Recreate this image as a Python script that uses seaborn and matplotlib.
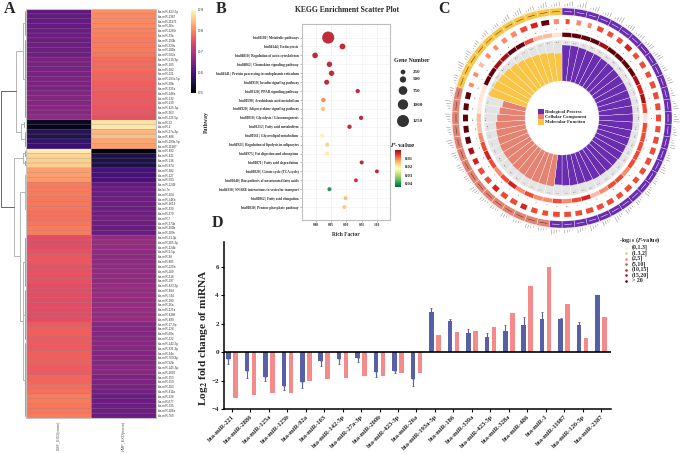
import numpy as np
import pandas as pd
import matplotlib
matplotlib.use("Agg")
import matplotlib.pyplot as plt
from matplotlib.cm import ScalarMappable
from matplotlib.colors import Normalize
import seaborn as sns

sns.set_theme(style="white")
plt.rcParams["font.family"] = ["Liberation Serif", "DejaVu Serif"]
plt.rcParams["mathtext.fontset"] = "stix"
plt.rcParams["font.weight"] = "bold"

W, H = 685, 454
SERIF = "Liberation Serif"
SANS = "Liberation Sans"

# ---------- Panel A ----------
mirna_a = ["423-5p","2387","11971","26a","2285t","33a","193b","320a","181b","502a","219-3p","185","182","221",
 "193a-5p","28b","335a","146a","132","139","425-5p","363","126-5p","32","1","27a-3p","486","199a-5p","11987",
 "492","421","136","874","382","127","503","1249","let-7e","204","146b","1613","330","379","7","374a","200b","200c",
 "21-3p","365-3p","124b","9-5p","98","885","125b","200","218","197","423-3p","484","744","180","26a","125a","4286",
 "490","17-5p","128","60a","222","142-5p","331-3p","34a","760-3p","92b","145-5p","2000","155","150","103","411a",
 "328","677","335","106a","769"]
lmf_exo = [.615,.62,.62,.62,.625,.625,.63,.63,.63,.63,.645,.64,.64,.64,.645,.645,.645,.65,.65,.65,.655,.655,.66,
 .525,.52,.56,.555,.575,.58,.885,.865,.86,.86,.82,.82,.815,.79,.79,.79,.785,.785,.785,.78,.78,.785,.79,.79,
 .745,.745,.745,.75,.755,.755,.75,.75,.75,.75,.745,.745,.745,.745,.745,.745,.745,.745,.76,.765,.765,.76,.76,
 .76,.765,.765,.765,.76,.76,.77,.77,.775,.78,.79,.79,.785,.785,.79]
hmf_exo = [.805,.80,.80,.80,.795,.795,.79,.79,.79,.785,.775,.775,.775,.77,.77,.765,.765,.76,.76,.76,.755,.755,.75,
 .875,.88,.84,.845,.825,.82,.51,.55,.55,.55,.59,.59,.595,.62,.625,.625,.63,.63,.63,.63,.635,.63,.625,.625,
 .67,.67,.67,.665,.66,.66,.665,.665,.665,.665,.67,.67,.67,.67,.67,.67,.67,.67,.655,.65,.65,.655,.655,
 .655,.65,.65,.65,.655,.655,.645,.645,.64,.635,.625,.625,.63,.63,.625]
column_a = ["LMF_EXO(norm)", "HMF_EXO(norm)"]

# dendrogram: (depth in px, [children]); a child is a node or a (first_row, last_row, depth) comb
dendro = (0.5, [
    (16, [(23, [(0, 5, 24.5), (6, 22, 25)]), (21, [(23, 24, 24), (25, 28, 25)])]),
    (13.5, [(23, [(29, 30, 25), (31, 32, 25)]),
            (19.5, [(25, [(33, 35, 25.5), (36, 46, 25.5)]),
                    (23, [(47, 57, 25), (58, 68, 25), (69, 84, 25)])])]),
])

# ---------- Panel B ----------
pathways = ["bta01100 | Metabolic pathways","bta04144 | Endocytosis","bta04810 | Regulation of actin cytoskeleton",
 "bta04062 | Chemokine signaling pathway","bta04141 | Protein processing in endoplasmic reticulum",
 "bta04910 | Insulin signaling pathway","bta03320 | PPAR signaling pathway","bta00590 | Arachidonic acid metabolism",
 "bta04920 | Adipocytokine signaling pathway","bta00010 | Glycolysis / Gluconeogenesis","bta01212 | Fatty acid metabolism",
 "bta00561 | Glycerolipid metabolism","bta04923 | Regulation of lipolysis in adipocytes","bta04975 | Fat digestion and absorption",
 "bta00071 | Fatty acid degradation","bta00020 | Citrate cycle (TCA cycle)","bta01040 | Biosynthesis of unsaturated fatty acids",
 "bta04130 | SNARE interactions in vesicular transport","bta00062 | Fatty acid elongation","bta00030 | Pentose phosphate pathway"]
rich_factor = [.840,.887,.797,.844,.851,.835,.937,.824,.823,.948,.910,.820,.837,.837,.950,1.000,.931,.844,.897,.893]
gene_number = [1260,230,210,190,190,150,90,90,90,90,90,80,80,70,70,60,60,70,60,60]
p_value = [.002,.002,.002,.002,.002,.002,.002,.010,.015,.002,.002,.020,.016,.019,.002,.002,.003,.041,.014,.015]
legend_genes = [250,500,750,1000,1250]
rich_ticks = [.80,.85,.90,.95,1.00]
p_ticks = [.01,.02,.03,.04]

# ---------- Panel C ----------
sector_counts = [28, 15, 11]
sector_names = ["Biological Process", "Cellular Component", "Molecular Function"]
sector_colors = ["#6A2DAF", "#E58373", "#F8C544"]
bar_values = [73,73,72.5,72,72,71.5,71.5,71,71,71,71,71,71,71,71,70.5,70.5,70,70,69.5,69.5,69,69,68.5,68,68,67.5,67,
              69,69,69,69,68.5,68.5,68,68,68,67.5,67,66.5,65,63,61,
              76,75,74,73,71.5,70,69,68,67,66,65]
band_class = [6,6,6,6,5,6,6,6,6,5,4,5,3,0,3,3,3,3,3,2,3,3,2,1,4,3,2,3,
              2,2,3,2,4,3,2,3,4,3,2,1,1,0,0,
              0,6,6,5,5,6,6,3,1,1,0]
square_class = [3,2,2,3,3,3,4,3,3,3,3,3,3,3,3,3,3,3,3,3,3,3,3,3,3,3,3,3,
                3,3,4,3,3,4,3,3,4,5,6,6,6,6,6,
                2,2,1,2,2,2,2,3,4,6,2,1][:54]
square_width = [.35,.4,.35,.55,.5,.5,.6,.5,.55,.5,.6,.6,.6,.6,.55,.6,.6,.6,.55,.5,.6,.55,.6,.6,.65,.6,.6,.6,
                .5,.55,.55,.6,.6,.55,.55,.55,.5,.55,.6,.6,.6,.6,.6,
                .35,.35,.35,.35,.35,.45,.5,.6,.6,.7,.45][:54]
outer_heights = [5,6,5,4,6,5,4,5,6,4,5,3,5,6,4,5,4,5,3,5,4,5,6,4,5,4,3,5,
                 3,4,3,4,3,4,5,3,4,5,6,4,5,6,4,
                 4,6,5,4,5,3,5,6,4,5,4]
band_numbers = [24,26,27,43,38,29,37,41,46,62,69,72,58,91,77,85,88,62,71,79,93,84,77,105,48,75,120,96,
                62,62,54,73,49,57,70,72,65,88,91,108,180,275,346,
                346,38,12,26,45,19,22,47,205,107,96]
legend_p_labels = ["(0,1.3]", "(1.3,2]", "(2,5]", "(5,10]", "(10,15]", "(15,20]", "> 20"]
p_colors = ["#FEE5D9", "#FCBBA1", "#FB8A6B", "#EF4A35", "#D7201E", "#A50F15", "#5F000B"]

# ---------- Panel D ----------
mirna_d = ["bta-miR-221","bta-miR-2886","bta-miR-125a","bta-miR-125b","bta-miR-92a","bta-miR-103","bta-miR-142-5p",
 "bta-miR-27a-3p","bta-miR-200b","bta-miR-423-3p","bta-miR-26a","bta-miR-193a-5p","bta-miR-186","bta-miR-339a",
 "bta-miR-423-5p","bta-miR-328a","bta-miR-486","bta-miR-1","bta-miR-11987","bta-miR-126-5p","bta-miR-2387"]
fc_blue = [-.5,-1.35,-1.75,-2.35,-2.1,-.6,-.5,-.4,-1.4,-1.35,-1.9,2.85,2.2,1.35,1.05,1.5,1.92,2.35,2.35,1.88,3.99]
fc_err = [.35,.5,.3,.3,.45,.35,.3,.3,.35,.15,.45,.25,.1,.28,.28,.4,.54,.47,.07,.21,.04]
fc_pink = [-3.2,-3.0,-2.9,-2.85,-2.0,-1.9,-1.85,-1.7,-1.7,-1.45,-1.45,1.2,1.4,1.52,1.76,2.77,4.67,5.99,3.38,1.0,2.44]
d_ticks = [-4,-2,0,2,4,6]


def axpx(x0, y0, x1, y1, **kw):
    return fig.add_axes([x0 / W, 1 - y1 / H, (x1 - x0) / W, (y1 - y0) / H], **kw)


fig = plt.figure(figsize=(6.85, 4.54), dpi=100, facecolor="white")

# ---- A: heat map
hm_df = pd.DataFrame({column_a[0]: lmf_exo, column_a[1]: hmf_exo},
                     index=[m if m.startswith("let") else "miR-" + m for m in mirna_a])
hm_df.index = ["bta-" + m for m in hm_df.index]
axA = axpx(26, 9, 156, 418)
caxA = axpx(191, 9.5, 196, 93)
sns.heatmap(hm_df, ax=axA, cmap="magma", vmin=.5, vmax=.9, linewidths=0,
            cbar_ax=caxA, yticklabels=True, xticklabels=True)
sep = axA.hlines(np.arange(1, len(mirna_a)), 0, 2, color="#8a8a8a", lw=.4, alpha=.55)
sep.set_snap(False)
axA.vlines(1, 0, len(mirna_a), color="#a8a8a8", lw=.4)
axA.yaxis.tick_right()
axA.tick_params(axis="y", length=0, pad=1.2, labelsize=2.2, labelcolor="#333333", labelrotation=0)
axA.tick_params(axis="x", length=0, pad=2, labelsize=2.8, labelcolor="#555555", labelrotation=90)
for t in axA.get_yticklabels() + axA.get_xticklabels():
    t.set_fontfamily(SANS)
    t.set_fontweight("normal")
for s in axA.spines.values():
    s.set_visible(True)
    s.set_color("#c4c4c4")
    s.set_linewidth(.8)
caxA.set_yticks([.5, .6, .7, .8, .9])
caxA.tick_params(length=0, pad=1.5, labelsize=3.2, labelcolor="#444444")
for t in caxA.get_yticklabels():
    t.set_fontfamily(SANS)
    t.set_fontweight("normal")

axD0 = axpx(0, 9, 26, 418, frameon=False)
axD0.set_xlim(0, 26)
axD0.set_ylim(85, 0)
axD0.axis("off")


def draw_node(node):
    if len(node) == 3:
        a, b, depth = node
        axD0.plot([depth, depth], [a + .5, b + .5], color="#777777", lw=.5)
        return depth, (a + b + 1) / 2
    depth, kids = node
    pos = [draw_node(k) for k in kids]
    ys = [p[1] for p in pos]
    col = "#666666" if depth < 2 else "#b5b5b5"
    axD0.plot([depth, depth], [min(ys), max(ys)], color=col, lw=.7)
    for d, y in pos:
        axD0.plot([depth, d], [y, y], color=col, lw=.7)
    return depth, (min(ys) + max(ys)) / 2


draw_node(dendro)

# ---- B: scatter
axB = axpx(302, 24, 390, 220)
df_b = pd.DataFrame({"pathway": pathways, "rich": rich_factor, "genes": gene_number, "p": p_value})
sns.scatterplot(data=df_b, x="rich", y="pathway", size="genes", sizes=(8, 76), size_norm=(60, 1260),
                hue="p", hue_norm=(0, .044), palette="RdYlGn", linewidth=0, alpha=.9, legend=False, ax=axB)
axB.set_xlim(.754, 1.043)
axB.set_ylim(19 + 1.45, -1.52)
axB.set_xticks(rich_ticks)
axB.set_xticklabels([f"{v:.2f}" for v in rich_ticks])
axB.grid(True, color="#eeeeee", lw=.4)
axB.set_axisbelow(True)
axB.set_xlabel("")
axB.set_ylabel("")
axB.tick_params(axis="both", length=1.5, width=.4, color="#888888", labelsize=2.6, pad=1, left=True, bottom=True)
axB.tick_params(axis="y", labelsize=2.5)
for s in axB.spines.values():
    s.set_color("#bdbdbd")
    s.set_linewidth(.8)

caxB = axpx(395, 150, 401, 187)
cb = fig.colorbar(ScalarMappable(Normalize(0, .044), "RdYlGn"), cax=caxB)
caxB.invert_yaxis()
cb.set_ticks(p_ticks)
cb.outline.set_visible(False)
caxB.tick_params(length=0, pad=2.5, labelsize=3.4)

# ---- C: circular GO plot
axC = axpx(440, -4, 684, 240, projection="polar", frameon=False)
axC.set_theta_zero_location("N")
axC.set_theta_direction(-1)
axC.set_ylim(0, 122)
axC.axis("off")
n = sum(sector_counts)
step = 2 * np.pi / n
theta = (np.arange(n) + .5) * step
cols = np.repeat(sector_colors, sector_counts)
bars = np.array(bar_values)
bkw = dict(linewidth=.22, edgecolor="white")
axC.bar(theta, 41, width=step, bottom=37, color="#e4e4e4", **bkw)
axC.bar(theta, bars - 37, width=step, bottom=37, color=cols, **bkw)
axC.bar(theta, 4.5, width=step, bottom=81, color=[p_colors[c] for c in band_class], **bkw)
axC.bar(theta, 5, width=step * np.array(square_width), bottom=94,
        color=[p_colors[c] for c in square_class], linewidth=0)
axC.bar(theta, 7, width=step, bottom=103, color=cols, **bkw)
for i, t in enumerate(theta):
    deg = np.degrees(t)
    rot = -deg if 90 >= deg or deg >= 270 else 180 - deg
    lc = "white" if i < sector_counts[0] else "#3a3a3a"
    axC.plot([t - step * .3, t + step * .3], [106.5, 106.5], color=lc, lw=.35)
    axC.text(t, 75.5, f"{bars[i] + 8:.1f}", fontsize=1.5, ha="center", va="center", rotation=rot,
             color="#444444", fontweight="normal")
    axC.text(t, 88.5, str(band_numbers[i]), fontsize=1.6, ha="center", va="center", rotation=rot,
             color="#333333", fontweight="normal")
    h = outer_heights[i]
    axC.plot([t - step * .5, t + step * .5], [111, 111], color="#cccccc", lw=.2)
    for off, frac in zip((-.28, -.09, .1, .29), (.3, .55, .8, 1)):
        axC.plot([t + off * step] * 2, [112, 112 + h * frac], color="#888888", lw=.35)

# ---- D: bars
axBar = axpx(224, 242, 611, 409, facecolor="none")
df_d = pd.DataFrame({"miRNA": mirna_d * 2, "fc": fc_blue + fc_pink,
                     "group": ["blue"] * len(mirna_d) + ["pink"] * len(mirna_d)})
sns.barplot(data=df_d, x="miRNA", y="fc", hue="group", palette=["#5560A8", "#F48A8A"], width=.76, gap=.35,
            saturation=1, legend=False, ax=axBar, errorbar=None, linewidth=0)
xs = np.arange(len(mirna_d)) - .19
axBar.errorbar(xs, fc_blue, yerr=[[e if v < 0 else 0 for v, e in zip(fc_blue, fc_err)],
                                  [e if v > 0 else 0 for v, e in zip(fc_blue, fc_err)]],
               fmt="none", ecolor="#5560A8", elinewidth=.8, capsize=.9, capthick=.6)
axBar.axhline(0, color="black", lw=1.2, zorder=5)
axBar.set_xlim(-.43, 20.54)
axBar.set_ylim(-4, 7.75)
axBar.set_yticks(d_ticks)
axBar.set_xlabel("")
axBar.set_ylabel("")
axBar.tick_params(axis="both", length=2.5, width=.8, color="black", labelsize=5, pad=1.2, left=True, bottom=True)
plt.setp(axBar.get_xticklabels(), rotation=45, ha="right", rotation_mode="anchor", fontsize=4.7)
for s in ("top", "right"):
    axBar.spines[s].set_visible(False)
for s in ("left", "bottom"):
    axBar.spines[s].set_color("black")
    axBar.spines[s].set_linewidth(1.1)

# ---- overlay for panel letters, titles and legends (figure pixels)
ov = axpx(0, 0, W, H, facecolor="none", frameon=False, zorder=20)
ov.set_xlim(0, W)
ov.set_ylim(H, 0)
ov.axis("off")
for letter, x, y in [("A", 10, 9), ("B", 221, 9), ("C", 444, 9), ("D", 217, 223)]:
    ov.text(x, y, letter, fontsize=11.5, fontweight="bold", ha="center", va="center")
ov.text(206.5, 122, "Pathway", rotation=90, fontsize=4.2, ha="center", va="center")
ov.text(347, 10.5, "KEGG Enrichment Scatter Plot", fontsize=5.5, ha="center", va="center")
ov.text(346, 235, "Rich Factor", fontsize=4, ha="center", va="center")
ov.text(412, 60, "Gene Number", fontsize=4.2, ha="center", va="center")
ov.text(403, 145, r"$\mathbfit{P}$-value", fontsize=5.2, ha="center", va="center")
ov.text(204, 338, r"Log$_{\mathbf{2}}$ fold change of miRNA", rotation=90, fontsize=8.2, ha="center", va="center")
size_y = [72, 79.5, 90.5, 104.5, 121]
size_d = [4.7, 6.3, 8.7, 10.3, 12]
sns.scatterplot(x=[403] * 5, y=size_y, size=legend_genes, sizes=[(d * .72) ** 2 for d in size_d],
                color="#333333", linewidth=0, legend=False, ax=ov)
for y, g in zip(size_y, legend_genes):
    ov.text(413, y, str(g), fontsize=3.6, va="center")
for y, c, name in zip([112, 117, 122], sector_colors, sector_names):
    sns.scatterplot(x=[541], y=[y], color=c, marker="s", s=14, linewidth=0, legend=False, ax=ov)
    ov.text(545, y, name, fontsize=3.4, va="center")
ov.text(640, 240, r"-log$_{\mathbf{10}}$ ($\mathbfit{P}$-value)", fontsize=4.4, ha="center", va="center")
for i, (lab, c) in enumerate(zip(legend_p_labels, p_colors)):
    y = 247.5 + i * 5.5
    sns.scatterplot(x=[626], y=[y], color=c, marker="o", s=3.5, linewidth=0, legend=False, ax=ov)
    ov.text(632, y, lab, fontsize=4.2, va="center")
ov.set_xlim(0, W)
ov.set_ylim(H, 0)
ov.set_xlabel("")
ov.set_ylabel("")

fig.savefig("out.png", dpi=100)
